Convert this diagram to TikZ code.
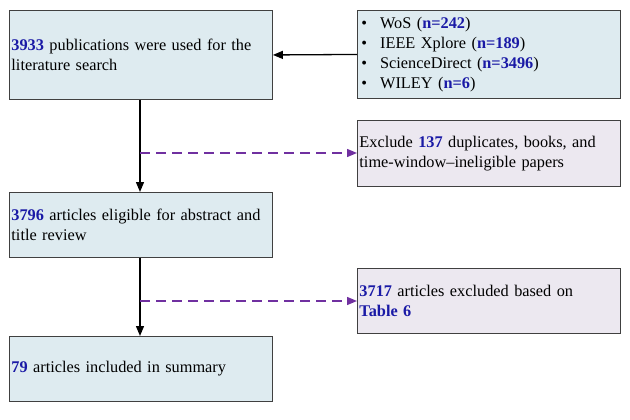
\documentclass[tikz,border=0pt]{standalone}
\usepackage{fontspec}
\setmainfont{Liberation Serif}
\usetikzlibrary{arrows.meta}
\definecolor{boxblue}{HTML}{DEEBF0}
\definecolor{boxlav}{HTML}{ECE8F0}
\definecolor{numblue}{HTML}{1A1AA6}
\definecolor{dashpurple}{HTML}{7030A0}
\newcommand{\nb}[1]{\textcolor{numblue}{\textbf{#1}}}
\tikzset{
  basebox/.style={draw=black!75, line width=0.9pt, minimum width=263pt, text width=259pt, align=left, inner xsep=2pt, inner ysep=3pt, font=\fontsize{16.3}{20.5}\selectfont, anchor=north west},
  mainbox/.style={basebox, fill=boxblue},
  exbox/.style={basebox, fill=boxlav},
  solidarrow/.style={line width=1.3pt, -{Triangle[length=10pt,width=8pt]}},
  dasharrow/.style={dashpurple, line width=1.4pt, dash pattern=on 10pt off 6pt, -{Triangle[length=10pt,width=8pt]}},
}
\begin{document}
\begin{tikzpicture}[x=1pt,y=-1pt]
\useasboundingbox (0,0) rectangle (630,420);
\node[mainbox, minimum height=89pt] (b1) at (9,10) {\nb{3933} publications were used for the\\literature search};
\node[mainbox, minimum height=88pt] (src) at (357,10) {%
\renewcommand{\arraystretch}{0.97}\begin{tabular}{@{\hspace{2pt}}l@{\hspace{13pt}}l@{}}
\textbullet & WoS (\nb{n=242})\\
\textbullet & IEEE Xplore (\nb{n=189})\\
\textbullet & ScienceDirect (\nb{n=3496})\\
\textbullet & WILEY (\nb{n=6})
\end{tabular}};
\node[exbox, minimum height=66pt] (e1) at (357,120) {Exclude \nb{137} duplicates, books, and\\time-window--ineligible papers};
\node[mainbox, minimum height=65pt] (b2) at (9,192) {\nb{3796} articles eligible for abstract and\\title review};
\node[exbox, minimum height=65pt] (e2) at (357,268) {\nb{3717} articles excluded based on\\\nb{Table 6}};
\node[mainbox, minimum height=65pt] (b3) at (9,336) {\nb{79} articles included in summary};
\coordinate (j1) at (140,153);
\coordinate (j2) at (140,301);
\draw[solidarrow] (src.west) -- (b1.east);
\draw[solidarrow] (b1.south -| j1) -- (b2.north -| j1);
\draw[solidarrow] (b2.south -| j2) -- (b3.north -| j2);
\draw[dasharrow] (j1) -- (j1 -| e1.west);
\draw[dasharrow] (j2) -- (j2 -| e2.west);
\end{tikzpicture}
\end{document}
